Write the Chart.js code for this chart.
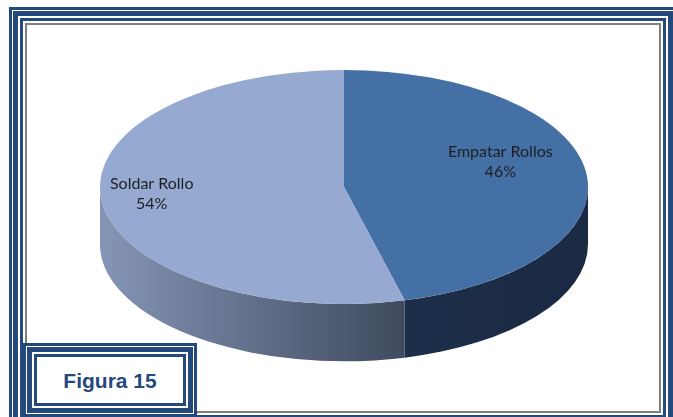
<!DOCTYPE html>
<html>
<head>
<meta charset="utf-8">
<script src="https://cdn.jsdelivr.net/npm/chart.js@4"></script>
<style>
  body { margin: 0; width: 673px; height: 417px; overflow: hidden; position: relative; background: #fff; }
  .f1 { position: absolute; left: 9px; top: 7px; border: 3px solid #244a7d; padding: 1px; }
  .f2 { border: 5px solid #244a7d; padding: 2px; }
  .f3 { border: 3px solid #244a7d; padding: 2px; }
  .f4 { border: 2px solid #7f7f7f; width: 632px; height: 386px; background: #fff; }
  #pie { position: absolute; left: 0; top: 0; }
  .box { position: absolute; left: 23px; top: 343px; border: 3px solid #244a7d; padding: 1px; background: #fff; }
  .b2 { border: 5px solid #244a7d; padding: 2px; }
  .b3 { border: 3px solid #244a7d; width: 146px; height: 46px; text-align: center;
        font: bold 21px "Liberation Sans", Arial, sans-serif; line-height: 48px; color: #244a7d; }
</style>
</head>
<body>
<div class="f1"><div class="f2"><div class="f3"><div class="f4"></div></div></div></div>
<canvas id="pie" width="673" height="417"></canvas>
<div class="box"><div class="b2"><div class="b3">Figura 15</div></div></div>

<script>
// data
const categories = ['Empatar Rollos', 'Soldar Rollo'];
const shares = [46, 54];

// colours: top face, and side wall (left -> right shade)
const topColors = ['#4470a6', '#95a9d1'];
const sideColors = [['#1d2e4a', '#1a2a43'], ['#8595b6', '#3f4a5e']];

// fake 3D: stretch the pie into an ellipse and hang a wall under the front half
const pie3d = {
    id: 'pie3d',
    beforeDatasetsDraw(chart, args, opts) {
        const ctx = chart.ctx;
        const arcs = chart.getDatasetMeta(0).data;
        const cx = arcs[0].x, cy = arcs[0].y, r = arcs[0].outerRadius;
        const sx = (chart.chartArea.width / 2) / r;
        const depth = r * opts.depth;

        ctx.save();
        ctx.translate(cx, cy);
        ctx.scale(sx, 1);
        arcs.forEach((arc, i) => {
            const lo = Math.max(arc.startAngle, 0);
            const hi = Math.min(arc.endAngle, Math.PI);
            if (hi <= lo) return;
            const xa = r * Math.cos(lo), xb = r * Math.cos(hi);
            const g = ctx.createLinearGradient(Math.min(xa, xb), 0, Math.max(xa, xb), 0);
            g.addColorStop(0, sideColors[i][0]);
            g.addColorStop(1, sideColors[i][1]);
            ctx.beginPath();
            ctx.arc(0, 0, r, lo, hi);
            ctx.lineTo(r * Math.cos(hi), r * Math.sin(hi) + depth);
            ctx.arc(0, depth, r, hi, lo, true);
            ctx.closePath();
            ctx.fillStyle = g;
            ctx.fill();
        });
        ctx.restore();

        // top face drawn by Chart.js under the same stretch
        ctx.save();
        ctx.translate(cx, cy);
        ctx.scale(sx, 1);
        ctx.translate(-cx, -cy);
    },
    afterDatasetsDraw(chart) {
        chart.ctx.restore();
    },
    afterDraw(chart, args, opts) {
        const ctx = chart.ctx;
        const arcs = chart.getDatasetMeta(0).data;
        const total = shares.reduce((a, b) => a + b, 0);
        const cx = arcs[0].x, cy = arcs[0].y, r = arcs[0].outerRadius;
        const sx = (chart.chartArea.width / 2) / r;
        ctx.save();
        ctx.font = opts.font;
        ctx.fillStyle = opts.color;
        ctx.textAlign = 'center';
        ctx.textBaseline = 'middle';
        arcs.forEach((arc, i) => {
            const mid = (arc.startAngle + arc.endAngle) / 2;
            const x = cx + sx * r * opts.radiusX * Math.cos(mid) + opts.offsetX;
            const y = cy + r * opts.radiusY * Math.sin(mid) + opts.offsetY;
            ctx.fillText(categories[i], x, y - opts.lineHeight / 2);
            ctx.fillText(Math.round(shares[i] / total * 100) + '%', x, y + opts.lineHeight / 2);
        });
        ctx.restore();
    }
};

new Chart(document.getElementById('pie'), {
    type: 'pie',
    data: {
        labels: categories,
        datasets: [{
            data: shares,
            backgroundColor: topColors,
            borderWidth: 0
        }]
    },
    options: {
        responsive: false,
        animation: false,
        devicePixelRatio: 1,
        layout: { padding: { left: 100, right: 85, top: 70, bottom: 113 } },
        plugins: {
            legend: { display: false },
            tooltip: { enabled: false },
            pie3d: {
                depth: 0.49,
                radiusX: 0.72,
                radiusY: 1.1,
                offsetX: -18,
                offsetY: -9,
                lineHeight: 20,
                font: "16px Lato, 'Open Sans', sans-serif",
                color: '#1f1f1f'
            }
        }
    },
    plugins: [pie3d]
});
</script>
</body>
</html>
